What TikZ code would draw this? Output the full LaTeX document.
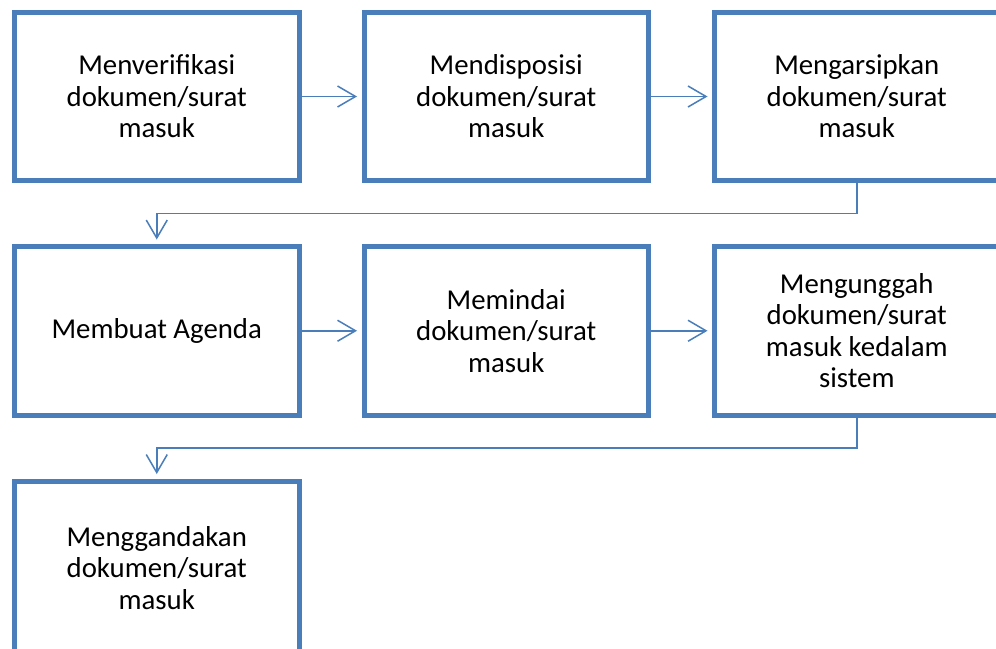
\documentclass[tikz,border=0pt]{standalone}
\usepackage{fontspec}
\setmainfont{Carlito}
\usetikzlibrary{positioning,arrows.meta,calc}
\definecolor{boxblue}{HTML}{4A7EBB}
\tikzset{
    x=1pt,
    y=-1pt,
    step box/.style = {
        draw=boxblue,
        shape=rectangle,
        minimum width=284.5pt,
        minimum height=168.5pt,
        line width=5pt,
        align=center,
        font=\fontsize{28.8}{31.5}\selectfont
    },
    link/.style = {
        draw=boxblue,
        line width=1.5pt,
        shorten >=4.5pt
    },
    >={Straight Barb[length=18pt,width=21pt]},
}

\begin{document}
\begin{tikzpicture}
            \useasboundingbox (0,0) rectangle (996,648);
            \node[step box] (verif) at (156.75,96.5) {Menverifikasi\\dokumen/surat\\masuk};
            \node[step box] (dispo) at (506.25,96.5) {Mendisposisi\\dokumen/surat\\masuk};
            \node[step box] (arsip) at (856.75,96.5) {Mengarsipkan\\dokumen/surat\\masuk};
            \node[step box] (agenda) at (156.75,330.75) {Membuat Agenda};
            \node[step box] (pindai) at (506.25,330.75) {Memindai\\dokumen/surat\\masuk};
            \node[step box] (unggah) at (856.75,330.75) {Mengunggah\\dokumen/surat\\masuk kedalam\\sistem};
            \node[step box, minimum height=174pt] (ganda) at (156.75,568) {Menggandakan\\dokumen/surat\\masuk};

            \coordinate (turn1) at ($(arsip.south)!0.5!(agenda.north)$);
            \coordinate (turn2) at ($(unggah.south)!0.5!(ganda.north)$);

            \path[link, ->] (verif) -- (dispo);
            \path[link, ->] (dispo) -- (arsip);
            \path[link, ->] (arsip.south) |- (turn1) -| (agenda.north);
            \path[link, ->] (agenda) -- (pindai);
            \path[link, ->] (pindai) -- (unggah);
            \path[link, ->] (unggah.south) |- (turn2) -| (ganda.north);
\end{tikzpicture}
\end{document}
